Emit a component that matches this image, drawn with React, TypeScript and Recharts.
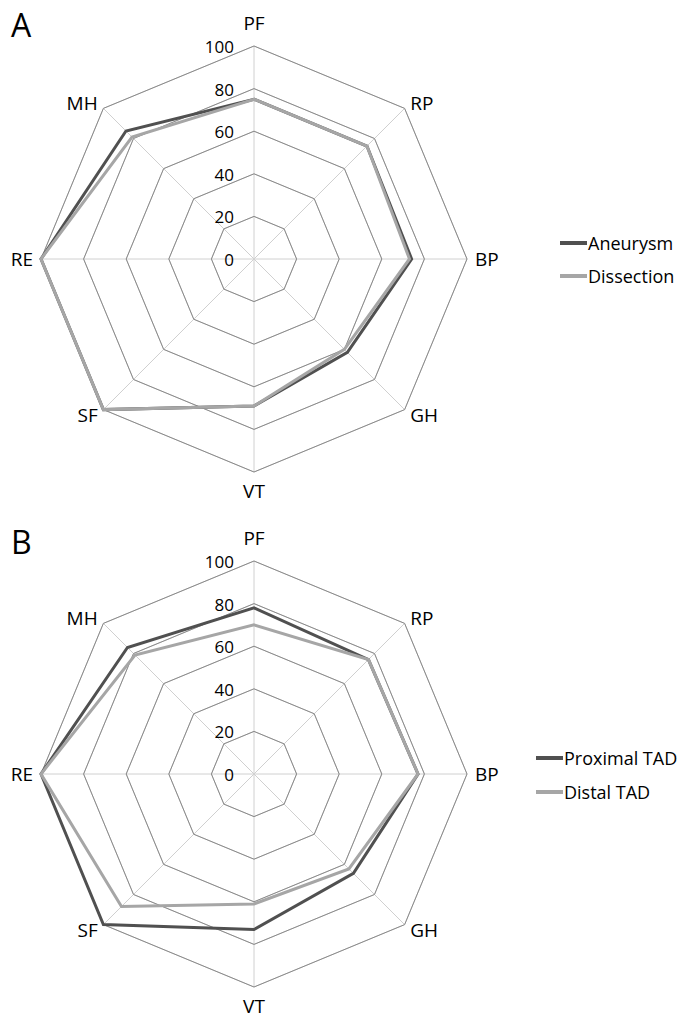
import React from 'react';
import { RadarChart, Radar, PolarGrid, PolarAngleAxis, PolarRadiusAxis, Legend } from 'recharts';

// axes go clockwise from the top, as in the figure
const categories = ['PF', 'RP', 'BP', 'GH', 'VT', 'SF', 'RE', 'MH'];
const radiusTicks = [0, 20, 40, 60, 80, 100];

// panel A
const aneurysm = [75, 75, 74, 62, 69, 100, 100, 85];
const dissection = [75, 75, 73, 60, 69, 100, 100, 81];

// panel B
const proximalTAD = [78, 76, 77, 66, 73, 100, 100, 84];
const distalTAD = [70, 76, 77, 63, 61, 88, 100, 79];

const DARK = '#505050';
const LIGHT = '#a6a6a6';
const FONT = '"Open Sans", sans-serif';

const CX = 254;
const CY = 259;
const R = 213;

const AngleTick = (props: any) => {
  const { x, y, payload, textAnchor } = props;
  const cy = props.cy ?? CY;
  let ty = y + 7;
  if (textAnchor === 'middle') {
    ty = y < cy ? y - 8 : y + 18;
  }
  return (
    <text x={x} y={ty} textAnchor={textAnchor} fontSize={19} fontFamily={FONT} fill="#000">
      {payload.value}
    </text>
  );
};

const RadiusTick = (props: any) => {
  const { x, y, payload } = props;
  return (
    <text x={x - 20} y={y + 7} textAnchor="end" fontSize={17} fontFamily={FONT} fill="#000">
      {payload.value}
    </text>
  );
};

const legendContent = (names: string[], rowHeight: number) => (props: any) => {
  const items = [...(props.payload || [])].sort(
    (a: any, b: any) => names.indexOf(a.value) - names.indexOf(b.value)
  );
  return (
    <div>
      {items.map((entry: any) => (
        <div key={entry.value} style={{ display: 'flex', alignItems: 'center', height: rowHeight }}>
          <svg width={27} height={8}>
            <line x1={0} y1={4} x2={27} y2={4} stroke={entry.color} strokeWidth={4} />
          </svg>
          <span style={{ fontSize: 18, fontFamily: FONT, color: '#000', marginLeft: 1, whiteSpace: 'nowrap' }}>
            {entry.value}
          </span>
        </div>
      ))}
    </div>
  );
};

function Panel({ data, names, legendLeft, legendTop, rowHeight, height }: any) {
  return (
    <RadarChart
      width={681}
      height={height}
      data={data}
      cx={CX}
      cy={CY}
      outerRadius={R}
      margin={{ top: 0, right: 0, bottom: 0, left: 0 }}
    >
      <PolarGrid gridType="polygon" stroke="#d0d0d0" strokeWidth={1} />
      <PolarGrid gridType="polygon" radialLines={false} stroke="#8a8a8a" strokeWidth={1} />
      <PolarAngleAxis dataKey="subject" tick={<AngleTick />} tickLine={false} axisLine={false} />
      <PolarRadiusAxis
        angle={90}
        domain={[0, 100]}
        ticks={radiusTicks as any}
        tickCount={radiusTicks.length}
        axisLine={false}
        tickLine={false}
        tick={<RadiusTick />}
      />
      <Radar
        name={names[0]}
        dataKey={names[0]}
        stroke={DARK}
        strokeWidth={3}
        fill="none"
        fillOpacity={0}
        dot={false}
        isAnimationActive={false}
      />
      <Radar
        name={names[1]}
        dataKey={names[1]}
        stroke={LIGHT}
        strokeWidth={3}
        fill="none"
        fillOpacity={0}
        dot={false}
        isAnimationActive={false}
      />
      <Legend
        layout="vertical"
        align="right"
        verticalAlign="top"
        content={legendContent(names, rowHeight)}
        wrapperStyle={{ left: legendLeft, top: legendTop, right: 'auto', width: 'auto' }}
      />
    </RadarChart>
  );
}

export default function App() {
  const dataA = categories.map((c, i) => ({ subject: c, Aneurysm: aneurysm[i], Dissection: dissection[i] }));
  const dataB = categories.map((c, i) => ({
    subject: c,
    'Proximal TAD': proximalTAD[i],
    'Distal TAD': distalTAD[i],
  }));

  return (
    <div style={{ position: 'absolute', left: 0, top: 0, width: 681, height: 1018, background: '#fff', fontFamily: FONT }}>
      <div style={{ position: 'absolute', left: 0, top: 0 }}>
        <Panel data={dataA} names={['Aneurysm', 'Dissection']} legendLeft={560} legendTop={226} rowHeight={33} height={515} />
      </div>
      <div style={{ position: 'absolute', left: 0, top: 515 }}>
        <Panel data={dataB} names={['Proximal TAD', 'Distal TAD']} legendLeft={536} legendTop={226} rowHeight={34} height={503} />
      </div>
      <div style={{ position: 'absolute', left: 11, top: 9, fontSize: 32, lineHeight: '32px' }}>A</div>
      <div style={{ position: 'absolute', left: 11, top: 526, fontSize: 32, lineHeight: '32px' }}>B</div>
    </div>
  );
}
